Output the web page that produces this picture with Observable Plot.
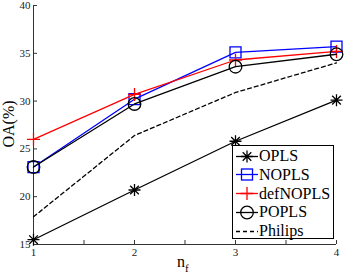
<!DOCTYPE html>
<html>
<head>
<meta charset="utf-8">
<script src="https://cdn.jsdelivr.net/npm/d3@7"></script>
<script src="https://cdn.jsdelivr.net/npm/@observablehq/plot@0.6"></script>
<style>
  body { margin: 0; background: white; }
  #wrap { position: relative; width: 346px; height: 277px; font-family: "Liberation Serif", "DejaVu Serif", serif; }
  #legend { position: absolute; left: 232px; top: 145px; width: 102px; height: 94px; border: 1px solid #000; background: white; box-sizing: border-box; }
  .row { position: absolute; left: 0; height: 19px; display: flex; align-items: center; font-size: 16px; color: #000; }
  .row svg { width: 26px; height: 19px; margin-left: 0px; }
  #ylab { position: absolute; left: 0; top: 0; font-size: 16px; }
  #xlab { position: absolute; font-size: 16px; }
</style>
</head>
<body>
<div id="wrap"></div>
<script>
// Data
const nf = [1, 2, 3, 4];
const opls     = [15.5, 20.7, 25.8, 30.1];
const nopls    = [23.1, 30.2, 35.1, 35.7];
const defnopls = [26.0, 30.7, 34.3, 35.2];
const popls    = [23.1, 29.7, 33.6, 34.9];
const philips  = [17.9, 26.4, 30.9, 34.0];
const xTicks = [1, 1.5, 2, 2.5, 3, 3.5, 4];
const yTicks = [15, 20, 25, 30, 35, 40];
const seriesNames = ["OPLS", "NOPLS", "defNOPLS", "POPLS", "Philips"];

// custom MATLAB-like symbols (size = pi r^2)
const rOf = s => Math.sqrt(s / Math.PI);
const symSquare = { draw(c, s) { const r = rOf(s); c.rect(-r, -r, 2 * r, 2 * r); } };
const symPlus = { draw(c, s) { const r = rOf(s); c.moveTo(-r, 0); c.lineTo(r, 0); c.moveTo(0, -r); c.lineTo(0, r); } };
const symStar = { draw(c, s) { const r = rOf(s); const d = r * 0.72;
  c.moveTo(-r, 0); c.lineTo(r, 0); c.moveTo(0, -r); c.lineTo(0, r);
  c.moveTo(-d, -d); c.lineTo(d, d); c.moveTo(-d, d); c.lineTo(d, -d); } };
const symCircle = { draw(c, s) { const r = rOf(s); c.moveTo(r, 0); c.arc(0, 0, r, 0, 2 * Math.PI); } };

const rows = (vals) => nf.map((x, i) => ({x, y: vals[i]}));

const lw = 1.3;
const chart = Plot.plot({
  width: 346, height: 277,
  marginLeft: 33, marginRight: 10, marginTop: 5, marginBottom: 33,
  style: { fontFamily: "Liberation Serif", fontSize: "11px", background: "white", color: "#222" },
  x: { domain: [1, 4] },
  y: { domain: [15, 40] },
  marks: [
    Plot.axisY({ ticks: yTicks, tickSize: -4, tickPadding: 7, label: null, stroke: "#333" }),
    Plot.axisX({ ticks: xTicks, tickSize: -4, tickPadding: 8, label: null, stroke: "#333",
                 tickFormat: d => Number.isInteger(d) ? String(d) : "" }),
    Plot.ruleX([1], { stroke: "#333", strokeWidth: 1 }),
    Plot.ruleY([15], { stroke: "#333", strokeWidth: 1 }),
    Plot.line(rows(opls), { x: "x", y: "y", stroke: "black", strokeWidth: lw }),
    Plot.dot(rows(opls), { x: "x", y: "y", symbol: symStar, r: 6, stroke: "black", strokeWidth: lw, fill: "none" }),
    Plot.line(rows(nopls), { x: "x", y: "y", stroke: "#0000ff", strokeWidth: lw }),
    Plot.dot(rows(nopls), { x: "x", y: "y", symbol: symSquare, r: 5.5, stroke: "#0000ff", strokeWidth: lw, fill: "none" }),
    Plot.line(rows(defnopls), { x: "x", y: "y", stroke: "#ff0000", strokeWidth: lw }),
    Plot.dot(rows(defnopls), { x: "x", y: "y", symbol: symPlus, r: 6.5, stroke: "#ff0000", strokeWidth: lw, fill: "none" }),
    Plot.line(rows(popls), { x: "x", y: "y", stroke: "black", strokeWidth: lw }),
    Plot.dot(rows(popls), { x: "x", y: "y", symbol: symCircle, r: 6.3, stroke: "black", strokeWidth: lw, fill: "none" }),
    Plot.line(rows(philips), { x: "x", y: "y", stroke: "black", strokeWidth: lw, strokeDasharray: "4,3" })
  ]
});
const wrap = document.getElementById("wrap");
wrap.appendChild(chart);

// Axis titles
const yl = document.createElement("div");
yl.id = "ylab";
yl.textContent = "OA(%)";
wrap.appendChild(yl);
const w = yl.offsetWidth, h = yl.offsetHeight;
yl.style.transform = `translate(${9 - w / 2}px, ${124 - h / 2}px) rotate(-90deg)`;

const xl = document.createElement("div");
xl.id = "xlab";
xl.innerHTML = "n<sub style='font-size:11px;vertical-align:-5px'>f</sub>";
xl.style.left = "177px";
xl.style.top = "253px";
wrap.appendChild(xl);

// Legend
const legend = document.createElement("div");
legend.id = "legend";
const specs = [
  { name: seriesNames[0], color: "black", sym: "star" },
  { name: seriesNames[1], color: "#0000ff", sym: "square" },
  { name: seriesNames[2], color: "#ff0000", sym: "plus" },
  { name: seriesNames[3], color: "black", sym: "circle" },
  { name: seriesNames[4], color: "black", sym: "dash" }
];
const symSvg = (s, c) => {
  const cx = 14, cy = 9.5;
  let line = s === "dash"
    ? `<line x1="3" x2="25" y1="${cy}" y2="${cy}" stroke="${c}" stroke-width="1.3" stroke-dasharray="4,3"/>`
    : `<line x1="3" x2="25" y1="${cy}" y2="${cy}" stroke="${c}" stroke-width="1.3"/>`;
  let m = "";
  if (s === "star") m = `<path d="M${cx-6},${cy}H${cx+6}M${cx},${cy-6}V${cy+6}M${cx-4.3},${cy-4.3}L${cx+4.3},${cy+4.3}M${cx-4.3},${cy+4.3}L${cx+4.3},${cy-4.3}" stroke="${c}" stroke-width="1.3" fill="none"/>`;
  if (s === "square") m = `<rect x="${cx-5.5}" y="${cy-5.5}" width="11" height="11" stroke="${c}" stroke-width="1.3" fill="none"/>`;
  if (s === "plus") m = `<path d="M${cx-6.5},${cy}H${cx+6.5}M${cx},${cy-6.5}V${cy+6.5}" stroke="${c}" stroke-width="1.3" fill="none"/>`;
  if (s === "circle") m = `<circle cx="${cx}" cy="${cy}" r="6.3" stroke="${c}" stroke-width="1.3" fill="none"/>`;
  return `<svg viewBox="0 0 26 19">${line}${m}</svg>`;
};
specs.forEach((sp, i) => {
  const r = document.createElement("div");
  r.className = "row";
  r.style.top = (0.5 + i * 18.8) + "px";
  r.innerHTML = symSvg(sp.sym, sp.color) + `<span>${sp.name}</span>`;
  legend.appendChild(r);
});
wrap.appendChild(legend);
</script>
</body>
</html>
